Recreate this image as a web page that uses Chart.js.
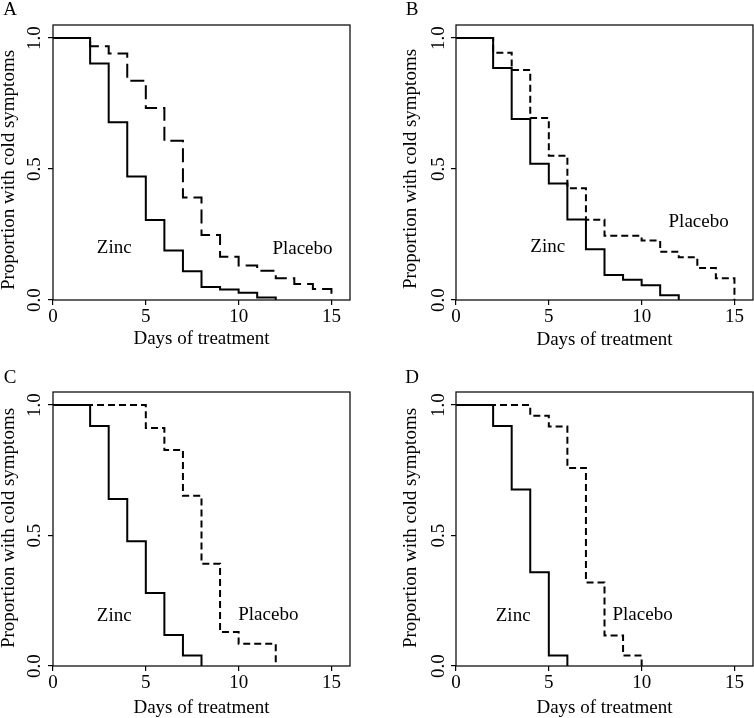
<!DOCTYPE html>
<html>
<head>
<meta charset="utf-8">
<script src="https://cdn.jsdelivr.net/npm/chart.js@4.4.1/dist/chart.umd.min.js"></script>
<style>
html,body{margin:0;padding:0;background:#fff;}
body{width:754px;height:718px;position:relative;overflow:hidden;}
canvas{position:absolute;display:block;}
</style>
</head>
<body>
<canvas id="cA" width="377" height="359" style="left:0;top:0"></canvas>
<canvas id="cB" width="377" height="359" style="left:377px;top:0"></canvas>
<canvas id="cC" width="377" height="359" style="left:0;top:359px"></canvas>
<canvas id="cD" width="377" height="359" style="left:377px;top:359px"></canvas>
<script>
// ---- data ----
const xTickValues = [0, 5, 10, 15];
const yTickValues = [0, 0.5, 1];
const yTickLabels = ['0.0', '0.5', '1.0'];
const xTitle = 'Days of treatment';
const yTitle = 'Proportion with cold symptoms';
const seriesNames = ['Zinc', 'Placebo'];

// Panel A
const daysA_zinc = [0, 2, 3, 4, 5, 6, 7, 8, 9, 10, 11, 12];
const zincA = [1, 0.903, 0.679, 0.472, 0.305, 0.189, 0.11, 0.05, 0.04, 0.028, 0.01, 0];
const daysA_placebo = [0, 2, 3, 4, 5, 6, 7, 8, 9, 10, 11, 12, 13, 14, 15];
const placeboA = [1, 0.969, 0.941, 0.837, 0.733, 0.608, 0.391, 0.248, 0.165, 0.132, 0.112, 0.083, 0.061, 0.042, 0];

// Panel B
const daysB_zinc = [0, 2, 3, 4, 5, 6, 7, 8, 9, 10, 11, 12];
const zincB = [1, 0.886, 0.691, 0.52, 0.445, 0.307, 0.194, 0.095, 0.077, 0.056, 0.018, 0];
const daysB_placebo = [0, 2, 3, 4, 5, 6, 7, 8, 10, 11, 12, 13, 14, 15];
const placeboB = [1, 0.944, 0.878, 0.695, 0.551, 0.427, 0.306, 0.245, 0.227, 0.184, 0.163, 0.122, 0.083, 0];

// Panel C
const daysC_zinc = [0, 2, 3, 4, 5, 6, 7, 8];
const zincC = [1, 0.92, 0.64, 0.478, 0.28, 0.119, 0.04, 0];
const daysC_placebo = [0, 5, 6, 7, 8, 9, 10, 12];
const placeboC = [1, 0.912, 0.828, 0.652, 0.392, 0.13, 0.085, 0];

// Panel D
const daysD_zinc = [0, 2, 3, 4, 5, 6];
const zincD = [1, 0.92, 0.676, 0.359, 0.04, 0];
const daysD_placebo = [0, 4, 5, 6, 7, 8, 9, 10];
const placeboD = [1, 0.959, 0.918, 0.759, 0.32, 0.117, 0.04, 0];

// ---- drawing ----
const FONT = "'Liberation Serif', 'Times New Roman', serif";
const FSIZE = 19;

const kmPlugin = {
  id: 'kmText',
  afterDraw(chart, args, o) {
    const ctx = chart.ctx, a = chart.chartArea, xs = chart.scales.x, ys = chart.scales.y;
    ctx.save();
    ctx.strokeStyle = '#111';
    ctx.lineWidth = 1.3;
    ctx.strokeRect(a.left, a.top, a.right - a.left, a.bottom - a.top);
    ctx.fillStyle = '#000';
    ctx.font = FSIZE + 'px ' + FONT;
    ctx.textBaseline = 'alphabetic';
    // y tick labels (rotated, R style)
    yTickValues.forEach((v, i) => {
      ctx.save();
      ctx.translate(a.left - o.yLabGap, ys.getPixelForValue(v));
      ctx.rotate(-Math.PI / 2);
      ctx.textAlign = 'center';
      ctx.fillText(yTickLabels[i], 0, 0);
      ctx.restore();
    });
    // y title
    ctx.save();
    ctx.translate(o.yTitleX, o.yTitleY);
    ctx.rotate(-Math.PI / 2);
    ctx.textAlign = 'center';
    ctx.fillText(yTitle, 0, 0);
    ctx.restore();
    // x title
    ctx.textAlign = 'center';
    ctx.fillText(xTitle, (a.left + a.right) / 2, o.xTitleY);
    // panel letter
    ctx.fillText(o.letter, o.letterX, o.letterY);
    // series labels
    ctx.fillText(seriesNames[0], xs.getPixelForValue(o.zincLab[0]), ys.getPixelForValue(o.zincLab[1]));
    ctx.fillText(seriesNames[1], xs.getPixelForValue(o.placLab[0]), ys.getPixelForValue(o.placLab[1]));
    ctx.restore();
  }
};

function pts(days, vals) { return days.map((d, i) => ({ x: d, y: vals[i] })); }

function makePanel(id, cfg) {
  new Chart(document.getElementById(id), {
    type: 'line',
    data: {
      datasets: [
        { label: seriesNames[0], data: pts(cfg.zd, cfg.zv), stepped: true, borderColor: '#000',
          borderWidth: 2, pointRadius: 0, fill: false, borderCapStyle: 'butt' },
        { label: seriesNames[1], data: pts(cfg.pd, cfg.pv), stepped: true, borderColor: '#000',
          borderWidth: 2, pointRadius: 0, fill: false, borderDash: cfg.dash, borderCapStyle: 'butt' }
      ]
    },
    options: {
      responsive: false, animation: false, devicePixelRatio: 1,
      layout: { padding: { left: 0, top: cfg.top, right: cfg.right, bottom: 0 } },
      plugins: { legend: { display: false }, tooltip: { enabled: false }, kmText: cfg.text },
      scales: {
        x: {
          type: 'linear', min: 0, max: 16, position: 'bottom',
          afterBuildTicks: s => { s.ticks = xTickValues.map(v => ({ value: v })); },
          afterFit: s => { s.height = cfg.xH; },
          grid: { drawOnChartArea: false, drawTicks: true, tickLength: 5, color: '#000', lineWidth: 1.2 },
          border: { display: false },
          ticks: { font: { family: FONT, size: FSIZE }, color: '#000', padding: 1, maxRotation: 0, autoSkip: false }
        },
        y: {
          type: 'linear', min: 0, max: 1.05, position: 'left',
          afterBuildTicks: s => { s.ticks = yTickValues.map(v => ({ value: v })); },
          afterFit: s => { s.width = cfg.yW; },
          grid: { drawOnChartArea: false, drawTicks: true, tickLength: 5, color: '#000', lineWidth: 1.2 },
          border: { display: false },
          ticks: { display: false }
        }
      }
    },
    plugins: [kmPlugin]
  });
}

makePanel('cA', { zd: daysA_zinc, zv: zincA, pd: daysA_placebo, pv: placeboA, dash: [14, 6],
  top: 25, right: 27, yW: 53, xH: 59,
  text: { letter: 'A', letterX: 10, letterY: 15, yLabGap: 13, yTitleX: 14, yTitleY: 170, xTitleY: 344,
          zincLab: [3.3, 0.179], placLab: [13.44, 0.175] } });
makePanel('cB', { zd: daysB_zinc, zv: zincB, pd: daysB_placebo, pv: placeboB, dash: [7, 4],
  top: 25, right: 1, yW: 79, xH: 59,
  text: { letter: 'B', letterX: 35, letterY: 15, yLabGap: 12.5, yTitleX: 39, yTitleY: 169, xTitleY: 345,
          zincLab: [4.94, 0.183], placLab: [13.07, 0.277] } });
makePanel('cC', { zd: daysC_zinc, zv: zincC, pd: daysC_placebo, pv: placeboC, dash: [7, 4],
  top: 33, right: 27, yW: 53, xH: 52,
  text: { letter: 'C', letterX: 10, letterY: 24, yLabGap: 13, yTitleX: 14, yTitleY: 169, xTitleY: 354,
          zincLab: [3.3, 0.174], placLab: [11.6, 0.177] } });
makePanel('cD', { zd: daysD_zinc, zv: zincD, pd: daysD_placebo, pv: placeboD, dash: [7, 4],
  top: 33, right: 1, yW: 79, xH: 52,
  text: { letter: 'D', letterX: 35, letterY: 24, yLabGap: 12.5, yTitleX: 39, yTitleY: 169, xTitleY: 354,
          zincLab: [3.08, 0.174], placLab: [10.05, 0.177] } });
</script>
</body>
</html>
